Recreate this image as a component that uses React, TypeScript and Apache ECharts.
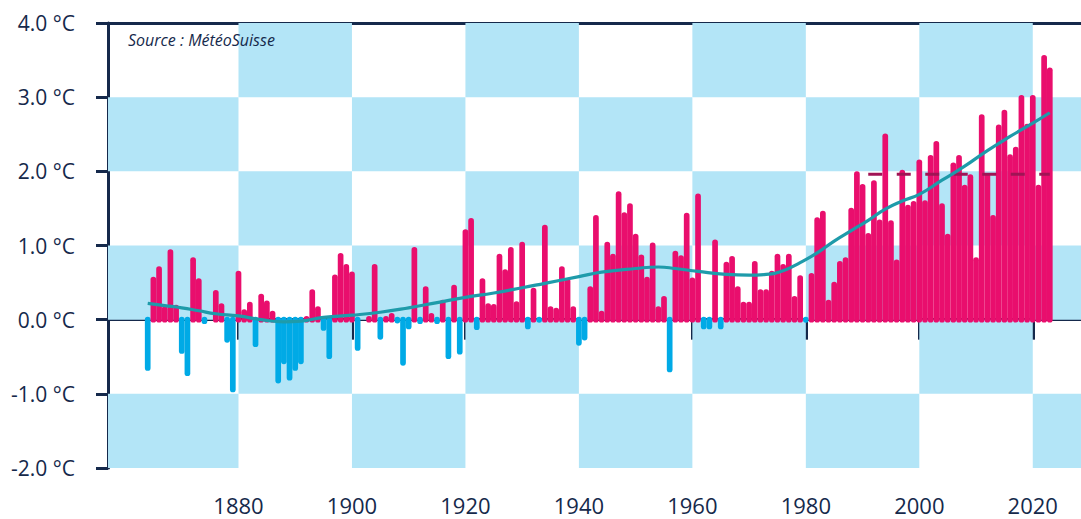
import { useEffect, useRef } from "react";
import * as echarts from "echarts";

// Annual temperature deviation (°C), Switzerland, 1864–2023
const firstYear = 1864;
const anomalies = [
  -0.69, 0.58, 0.72, 0.18, 0.95, 0.2, -0.46, -0.76, 0.84, 0.56,
  -0.06, -0.02, 0.4, 0.22, -0.31, -0.98, 0.66, 0.14, 0.24, -0.37,
  0.35, 0.26, 0.12, -0.86, -0.6, -0.82, -0.69, -0.6, 0.05, 0.41,
  0.18, -0.15, -0.53, 0.61, 0.9, 0.75, 0.65, -0.42, -0.02, 0.05,
  0.75, -0.27, 0.05, 0.09, -0.05, -0.62, -0.13, 0.98, -0.06, 0.45,
  0.09, -0.06, 0.27, -0.53, 0.47, -0.47, 1.22, 1.37, -0.14, 0.56,
  0.22, 0.21, 0.89, 0.68, 0.98, 0.25, 1.05, -0.13, 0.43, -0.04,
  1.28, 0.18, 0.16, 0.72, 0.56, 0.18, -0.35, -0.28, 0.45, 1.41,
  0.12, 1.05, 0.89, 1.73, 1.45, 1.57, 1.16, 0.88, 0.58, 1.04,
  0.18, 0.32, -0.71, 0.93, 0.87, 1.44, 0.57, 1.7, -0.13, -0.13,
  1.08, -0.13, 0.78, 0.86, 0.45, 0.24, 0.24, 0.79, 0.41, 0.41,
  0.66, 0.89, 0.75, 0.89, 0.32, 0.6, -0.04, 0.63, 1.38, 1.47,
  0.27, 0.51, 0.79, 0.84, 1.51, 2.0, 1.83, 1.17, 1.88, 1.35,
  2.51, 1.34, 0.81, 2.02, 1.55, 1.6, 2.16, 1.61, 2.22, 2.41,
  1.57, 1.16, 2.12, 2.22, 1.82, 1.96, 0.84, 2.77, 1.97, 1.41,
  2.63, 2.83, 2.23, 2.33, 3.03, 2.64, 3.03, 1.82, 3.57, 3.4,
];

// Smoothed trend (read at sample years)
const trendYears = [
  1864, 1867, 1870, 1873, 1876, 1880, 1884, 1888, 1891, 1895, 1900, 1905,
  1910, 1915, 1920, 1925, 1930, 1934, 1940, 1944, 1950, 1954, 1957, 1961,
  1966, 1970, 1973, 1976, 1979, 1982, 1985, 1988, 1991, 1994, 1997, 2000,
  2004, 2008, 2012, 2016, 2020, 2023,
];
const trendValues = [
  0.22, 0.19, 0.16, 0.12, 0.08, 0.05, 0.0, -0.03, -0.02, 0.03, 0.06, 0.1,
  0.16, 0.23, 0.3, 0.36, 0.43, 0.49, 0.58, 0.64, 0.69, 0.71, 0.69, 0.65,
  0.61, 0.6, 0.61, 0.66, 0.77, 0.9, 1.06, 1.2, 1.34, 1.49, 1.6, 1.69,
  1.88, 2.07, 2.28, 2.47, 2.65, 2.79,
];

// Mean level 1991–2023 (dashed)
const meanYears = [1991, 2023];
const meanValue = 1.96;

// Axes
const xMin = 1857;
const xMax = 2028.5;
const xTickValues = [1857, 1880, 1900, 1920, 1940, 1960, 1980, 2000, 2020];
const xLabelValues = [1880, 1900, 1920, 1940, 1960, 1980, 2000, 2020];
const yMin = -2;
const yMax = 4;

// Checkerboard background edges
const colEdges = [1857, 1880, 1900, 1920, 1940, 1960, 1980, 2000, 2020, 2028.5];
const rowEdges = [-2, -1, 0, 1, 2, 3, 4];

const NAVY = "#15294b";
const PINK = "#e90e6d";
const BLUE = "#00aae6";
const CHECK = "#b3e5f7";
const TEAL = "#1e9baa";
const DASH = "#a01455";
const FONT = "'Open Sans', 'Noto Sans', sans-serif";
const BAR_W = 5.7;

export default function App() {
  const ref = useRef<HTMLDivElement>(null);

  useEffect(() => {
    if (!ref.current) return;
    const chart = echarts.init(ref.current, undefined, { renderer: "svg" });

    const cells: number[][] = [];
    for (let c = 0; c < colEdges.length - 1; c++) {
      for (let r = 0; r < rowEdges.length - 1; r++) {
        if ((c + r) % 2 === 0) {
          cells.push([colEdges[c], colEdges[c + 1], rowEdges[r], rowEdges[r + 1]]);
        }
      }
    }

    const bars = anomalies.map((v, i) => [firstYear + i, v]);
    const trend = trendYears.map((y, i) => [y, trendValues[i]]);
    const mean = meanYears.map((y) => [y, meanValue]);

    chart.setOption({
      animation: false,
      grid: { left: 108, right: 0, top: 23, bottom: 51 },
      xAxis: [
        {
          type: "value",
          min: xMin,
          max: xMax,
          axisLine: { show: true, lineStyle: { color: NAVY, width: 3 } },
          axisTick: {
            show: true,
            customValues: xTickValues,
            length: 20,
            lineStyle: { color: NAVY, width: 3 },
          },
          axisLabel: {
            customValues: xLabelValues,
            formatter: (v: number) => String(v),
            fontSize: 22,
            lineHeight: 22,
            fontFamily: FONT,
            color: NAVY,
            margin: 26,
          },
          splitLine: { show: false },
        },
        {
          type: "value",
          position: "top",
          min: xMin,
          max: xMax,
          axisLine: { show: true, lineStyle: { color: NAVY, width: 3 } },
          axisTick: { show: false },
          axisLabel: { show: false },
          splitLine: { show: false },
        },
      ],
      yAxis: {
        type: "value",
        min: yMin,
        max: yMax,
        interval: 1,
        axisLine: { show: true, lineStyle: { color: NAVY, width: 3 } },
        axisTick: { show: true, length: 12, lineStyle: { color: NAVY, width: 3 } },
        axisLabel: {
          formatter: (v: number) => v.toFixed(1) + " °C",
          fontSize: 21,
          fontFamily: FONT,
          color: NAVY,
          margin: 33,
        },
        splitLine: { show: false },
      },
      graphic: [
        {
          type: "text",
          left: 128,
          top: 32,
          z: 100,
          style: {
            text: "Source : MétéoSuisse",
            fontSize: 16,
            fontStyle: "italic",
            fontFamily: FONT,
            fill: NAVY,
          },
        },
      ],
      series: [
        {
          type: "line",
          z: 0,
          silent: true,
          symbol: "none",
          data: [],
          markArea: {
            silent: true,
            itemStyle: { color: CHECK, opacity: 1 },
            label: { show: false },
            emphasis: { disabled: true },
            data: cells.map((c) => [
              { xAxis: c[0], yAxis: c[2] },
              { xAxis: c[1], yAxis: c[3] },
            ]),
          },
        },
        {
          type: "custom",
          z: 2,
          silent: true,
          data: bars,
          encode: { x: 0, y: 1 },
          renderItem: (_p: any, api: any) => {
            const x = api.value(0);
            const v = api.value(1);
            const p0 = api.coord([x, 0]);
            const p1 = api.coord([x, v]);
            const r = BAR_W / 2;
            let y2 = v >= 0 ? p1[1] + r : p1[1] - r;
            if (v >= 0 && y2 > p0[1]) y2 = p0[1];
            if (v < 0 && y2 < p0[1]) y2 = p0[1];
            return {
              type: "line",
              shape: { x1: p0[0], y1: p0[1], x2: p1[0], y2 },
              style: { stroke: v >= 0 ? PINK : BLUE, lineWidth: BAR_W, lineCap: "round" },
            };
          },
        },
        {
          type: "line",
          z: 3,
          data: mean,
          symbol: "none",
          silent: true,
          lineStyle: { color: DASH, width: 3, type: [14, 14.5] },
        },
        {
          type: "line",
          z: 4,
          data: trend,
          smooth: 0.5,
          symbol: "none",
          silent: true,
          lineStyle: { color: TEAL, width: 3.2 },
        },
      ],
    });

    return () => chart.dispose();
  }, []);

  return (
    <div
      ref={ref}
      style={{ position: "absolute", left: 0, top: 0, width: 1081, height: 519 }}
    />
  );
}
